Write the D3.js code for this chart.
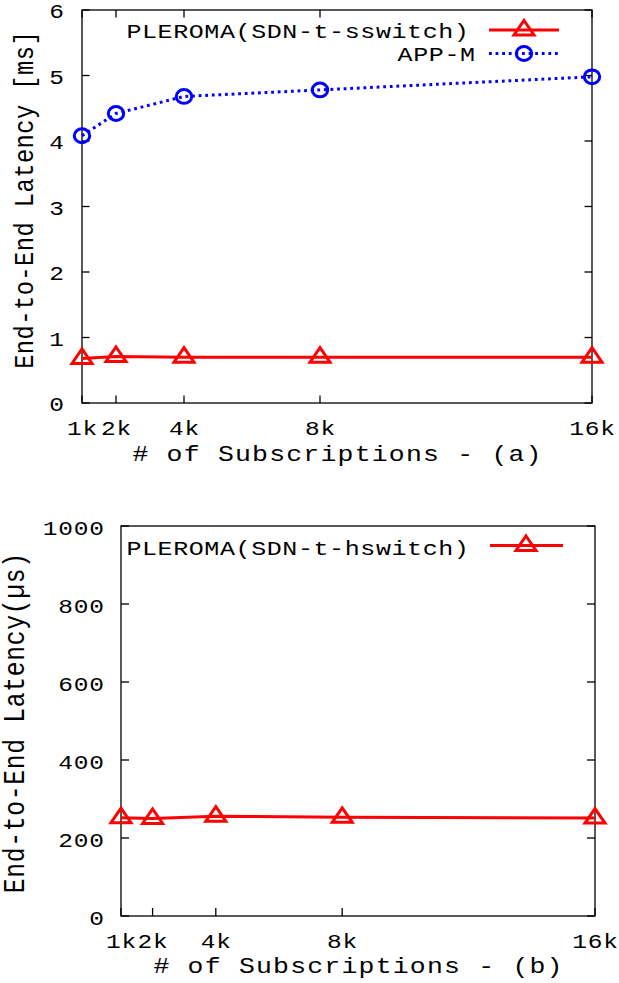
<!DOCTYPE html>
<html>
<head>
<meta charset="utf-8">
<script src="https://cdn.jsdelivr.net/npm/d3@7"></script>
<style>
  html, body { margin: 0; padding: 0; background: #fff; }
  svg { display: block; }
  text { font-family: "Liberation Mono", "DejaVu Sans Mono", monospace; fill: #000; }
</style>
</head>
<body>
<script>
// Number of subscriptions (thousands) and their tick labels
const subscriptionsK = [1, 2, 4, 8, 16];
const subscriptionLabels = ["1k", "2k", "4k", "8k", "16k"];

// (a) end-to-end latency in ms
const sswitchLatencyMs = [0.68, 0.71, 0.70, 0.70, 0.70];
const appMLatencyMs = [4.08, 4.42, 4.68, 4.78, 4.98];
const yTicksMs = [0, 1, 2, 3, 4, 5, 6];

// (b) end-to-end latency in microseconds
const hswitchLatencyUs = [252, 250, 256, 253, 251];
const yTicksUs = [0, 200, 400, 600, 800, 1000];

const W = 619, H = 983;
const RED = "#ff0000", BLUE = "#0000ff";

const svg = d3.select("body").append("svg")
  .attr("width", W).attr("height", H);

// Monospace label with a fixed per-character advance; squash flattens glyphs
function label(g, str, x, y, o) {
  const n = str.length;
  const sq = o.squash;
  const advLocal = o.vertical ? o.adv / sq : o.adv;
  const ls = advLocal - 0.6 * o.fs;
  const w = n * advLocal - ls;
  const x0 = o.anchor === "end" ? -w : o.anchor === "middle" ? -w / 2 : 0;
  const tr = o.vertical
    ? `translate(${x},${y}) rotate(-90) scale(${sq},1)`
    : `translate(${x},${y}) scale(1,${sq})`;
  g.append("text")
    .attr("transform", tr)
    .attr("x", x0).attr("y", 0)
    .style("font-size", o.fs + "px")
    .style("letter-spacing", ls + "px")
    .text(str);
}

const triPath = "M0,-9.5L10,5L-10,5Z";

function triangles(g, pts) {
  g.selectAll(null).data(pts).enter().append("path")
    .attr("d", triPath)
    .attr("transform", d => `translate(${d[0]},${d[1]})`)
    .attr("fill", "none").attr("stroke", RED).attr("stroke-width", 3)
    .attr("stroke-linejoin", "miter");
}

function circles(g, pts) {
  g.selectAll(null).data(pts).enter().append("ellipse")
    .attr("cx", d => d[0]).attr("cy", d => d[1])
    .attr("rx", 7.7).attr("ry", 6.9)
    .attr("fill", "none").attr("stroke", BLUE).attr("stroke-width", 3);
}

function frameAndTicks(g, x, y, xt, yt, tick, mirrorX) {
  const [x1, x2] = x.range();
  const [yb, yt2] = y.range();
  g.append("rect")
    .attr("x", x1).attr("y", yt2).attr("width", x2 - x1).attr("height", yb - yt2)
    .attr("fill", "none").attr("stroke", "#000").attr("stroke-width", 1.3);
  const tg = g.append("g").attr("stroke", "#000").attr("stroke-width", 1.3);
  xt.forEach(v => {
    tg.append("line").attr("x1", x(v)).attr("x2", x(v)).attr("y1", yb).attr("y2", yb - tick);
    if (mirrorX) tg.append("line").attr("x1", x(v)).attr("x2", x(v)).attr("y1", yt2).attr("y2", yt2 + tick);
  });
  yt.forEach(v => {
    tg.append("line").attr("x1", x1).attr("x2", x1 + tick).attr("y1", y(v)).attr("y2", y(v));
    tg.append("line").attr("x1", x2).attr("x2", x2 - tick).attr("y1", y(v)).attr("y2", y(v));
  });
}

const tickFont = { fs: 24.5, adv: 15.5, squash: 0.8 };
const legendFont = { fs: 25, adv: 15.6, squash: 0.8 };
const xLabelFont = { fs: 26.5, adv: 17.1, squash: 0.8, anchor: "middle" };

// ---------- (a) ----------
{
  const g = svg.append("g");
  const x = d3.scaleLinear().domain([1, 16]).range([82, 592]);
  const y = d3.scaleLinear().domain([0, 6]).range([403, 10]);

  frameAndTicks(g, x, y, subscriptionsK, yTicksMs, 7.5, true);

  yTicksMs.forEach(v => label(g, String(v), 64, y(v) + 8.3, { ...tickFont, anchor: "end" }));
  subscriptionsK.forEach((v, i) =>
    label(g, subscriptionLabels[i], x(v), 435, { ...tickFont, anchor: "middle" }));

  label(g, "# of Subscriptions - (a)", (x(1) + x(16)) / 2, 460.5, xLabelFont);
  label(g, "End-to-End Latency [ms]", 33, 200,
    { fs: 28, adv: 14.7, squash: 0.85, vertical: true, anchor: "middle" });

  const line = d3.line().x(d => d[0]).y(d => d[1]);

  const appPts = subscriptionsK.map((v, i) => [x(v), y(appMLatencyMs[i])]);
  g.append("path").attr("d", line(appPts))
    .attr("fill", "none").attr("stroke", BLUE).attr("stroke-width", 3)
    .attr("stroke-dasharray", "2.8 3.8");
  circles(g, appPts);

  const sswPts = subscriptionsK.map((v, i) => [x(v), y(sswitchLatencyMs[i])]);
  g.append("path").attr("d", line(sswPts))
    .attr("fill", "none").attr("stroke", RED).attr("stroke-width", 3);
  triangles(g, sswPts);

  // key
  label(g, "PLEROMA(SDN-t-sswitch)", 469, 37.5, { ...legendFont, anchor: "end" });
  g.append("line").attr("x1", 489).attr("x2", 559).attr("y1", 30).attr("y2", 30)
    .attr("stroke", RED).attr("stroke-width", 3);
  triangles(g, [[524, 30]]);

  label(g, "APP-M", 475, 61, { ...legendFont, anchor: "end" });
  g.append("line").attr("x1", 489).attr("x2", 559).attr("y1", 53.5).attr("y2", 53.5)
    .attr("stroke", BLUE).attr("stroke-width", 3).attr("stroke-dasharray", "2.8 3.8");
  circles(g, [[524, 53.5]]);
}

// ---------- (b) ----------
{
  const g = svg.append("g");
  const x = d3.scaleLinear().domain([1, 16]).range([121, 595]);
  const y = d3.scaleLinear().domain([0, 1000]).range([916, 526]);

  frameAndTicks(g, x, y, subscriptionsK, yTicksUs, 8, false);

  yTicksUs.forEach(v => label(g, String(v), 104, y(v) + 8.8, { ...tickFont, anchor: "end" }));
  subscriptionsK.forEach((v, i) =>
    label(g, subscriptionLabels[i], x(v), 948, { ...tickFont, anchor: "middle" }));

  label(g, "# of Subscriptions - (b)", (x(1) + x(16)) / 2, 973, xLabelFont);
  label(g, "End-to-End Latency(µs)", 23.5, 723,
    { fs: 29, adv: 15.5, squash: 0.85, vertical: true, anchor: "middle" });

  const line = d3.line().x(d => d[0]).y(d => d[1]);
  const hswPts = subscriptionsK.map((v, i) => [x(v), y(hswitchLatencyUs[i])]);
  g.append("path").attr("d", line(hswPts))
    .attr("fill", "none").attr("stroke", RED).attr("stroke-width", 3);
  triangles(g, hswPts);

  // key
  label(g, "PLEROMA(SDN-t-hswitch)", 469, 554.5, { ...legendFont, anchor: "end" });
  g.append("line").attr("x1", 490).attr("x2", 563).attr("y1", 545.5).attr("y2", 545.5)
    .attr("stroke", RED).attr("stroke-width", 3);
  triangles(g, [[526, 545.5]]);
}
</script>
</body>
</html>
